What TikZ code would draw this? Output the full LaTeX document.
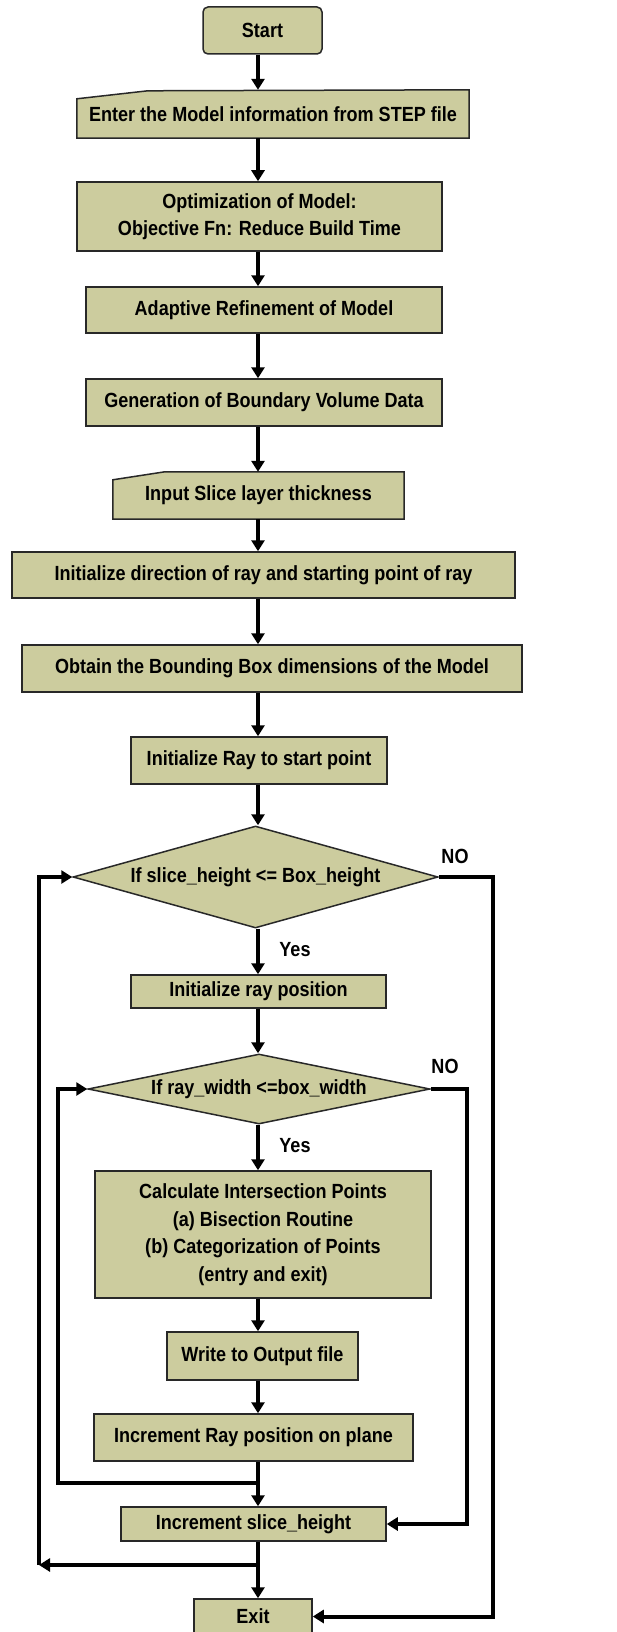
\documentclass[tikz,border=0pt]{standalone}
\usepackage{fontspec}
\setmainfont[FakeStretch=0.88]{Liberation Sans}
\usetikzlibrary{shapes.geometric,arrows.meta,backgrounds,calc}
\definecolor{boxfill}{RGB}{204,204,158}
\definecolor{boxline}{RGB}{40,40,40}
\begin{document}
\begin{tikzpicture}[x=1pt,y=-1pt,
  every node/.style={font=\bfseries\fontsize{20.5}{27.5}\selectfont, text=black},
  proc/.style={rectangle, draw=boxline, fill=boxfill, line width=1.5pt, inner sep=0pt, align=center},
  ghost/.style={rectangle, draw=none, fill=none, inner sep=0pt, align=center},
  dec/.style={diamond, draw=boxline, fill=boxfill, line width=1.5pt, inner sep=0pt},
  manual/.style={draw=boxline, fill=boxfill, line width=1.5pt},
  flow/.style={line width=4pt, -{Triangle[length=11pt,width=13pt]}},
]
\useasboundingbox (0,0) rectangle (617,1632);
\begin{scope}[on background layer]
  \fill[white] (0,0) rectangle (617,1632);
\end{scope}

\coordinate (ax) at (258,0);

% nodes
\node[proc, rounded corners=5pt, minimum width=119pt, minimum height=47pt] (start) at (262.5,30.5) {Start};
\node[ghost, minimum width=392pt, minimum height=48pt] (enter) at (273,114) {Enter the Model information from STEP file};
\node[proc, minimum width=365pt, minimum height=69pt] (opt) at (259.5,216.5) {Optimization of Model:\\Objective Fn: Reduce Build Time};
\node[proc, minimum width=356pt, minimum height=46pt] (adapt) at (264,310) {Adaptive Refinement of Model};
\node[proc, minimum width=356pt, minimum height=47pt] (gen) at (264,402.5) {Generation of Boundary Volume Data};
\node[ghost, minimum width=291pt, minimum height=47pt] (input) at (258.5,495.5) {Input Slice layer thickness};
\node[proc, minimum width=503pt, minimum height=46pt] (initdir) at (263.5,575) {Initialize direction of ray and starting point of ray};
\node[proc, minimum width=500pt, minimum height=47pt] (obtain) at (272,668.5) {Obtain the Bounding Box dimensions of the Model};
\node[proc, minimum width=256pt, minimum height=47pt] (initray) at (259,760.5) {Initialize Ray to start point};
\node[dec, minimum width=365pt, minimum height=102pt] (d1) at (255.5,877) {};
\node (d1t) at (d1) {If slice\_height <= Box\_height};
\node[proc, minimum width=255pt, minimum height=33pt] (initpos) at (258.5,991.5) {Initialize ray position};
\node[dec, minimum width=342pt, minimum height=70pt] (d2) at (259,1089) {};
\node (d2t) at (d2) {If ray\_width <=box\_width};
\node[proc, minimum width=336pt, minimum height=127pt] (calc) at (263,1234.5) {Calculate Intersection Points\\(a) Bisection Routine\\(b) Categorization of Points\\(entry and exit)};
\node[proc, minimum width=191pt, minimum height=48pt] (write) at (262.5,1356) {Write to Output file};
\node[proc, minimum width=319pt, minimum height=47pt] (incray) at (253.5,1437.5) {Increment Ray position on plane};
\node[proc, minimum width=265pt, minimum height=34pt] (incslice) at (253.5,1524) {Increment slice\_height};
\node[proc, minimum width=118pt, minimum height=35pt] (exit) at (253,1616.5) {Exit};

% manual input shapes
\begin{scope}[on background layer]
  \filldraw[manual] (enter.south west) -- (enter.south east) -- (enter.north east)
    -- ($(enter.north west)+(71,1)$) -- ($(enter.north west)+(0,9)$) -- cycle;
  \filldraw[manual] (input.south west) -- (input.south east) -- (input.north east)
    -- ($(input.north west)+(52,0)$) -- ($(input.north west)+(0,8)$) -- cycle;
\end{scope}

% labels
\node (no1) at (455,856) {NO};
\node (yes1) at (295,950) {Yes};
\node (no2) at (445,1066) {NO};
\node (yes2) at (295,1146) {Yes};

% main flow
\draw[flow] (start.south -| ax) -- (enter.north -| ax);
\draw[flow] (enter.south -| ax) -- (opt.north -| ax);
\draw[flow] (opt.south -| ax) -- (adapt.north -| ax);
\draw[flow] (adapt.south -| ax) -- (gen.north -| ax);
\draw[flow] (gen.south -| ax) -- (input.north -| ax);
\draw[flow] (input.south -| ax) -- (initdir.north -| ax);
\draw[flow] (initdir.south -| ax) -- (obtain.north -| ax);
\draw[flow] (obtain.south -| ax) -- (initray.north -| ax);
\draw[flow] (initray.south -| ax) -- (d1.north -| ax);
\draw[flow] (d1.south -| ax) -- (initpos.north -| ax);
\draw[flow] (initpos.south -| ax) -- (d2.north -| ax);
\draw[flow] (d2.south -| ax) -- (calc.north -| ax);
\draw[flow] (calc.south -| ax) -- (write.north -| ax);
\draw[flow] (write.south -| ax) -- (incray.north -| ax);
\draw[flow] (incray.south -| ax) -- (incslice.north -| ax);
\draw[flow] (incslice.south -| ax) -- (exit.north -| ax);

% inner loop
\coordinate (j1) at (258,1483);
\coordinate (il) at (58,1483);
\draw[flow] (j1) -- (il) -- (il |- d2.west) -- (d2.west);

% NO from d2
\coordinate (nr) at (467,0);
\draw[flow] (d2.east) -- (d2.east -| nr) -- (nr |- incslice.east) -- (incslice.east);

% outer loop
\coordinate (j2) at (258,1565);
\coordinate (ol) at (39,1565);
\draw[flow] (j2) -- (ol);
\draw[flow] (ol) -- (ol |- d1.west) -- (d1.west);

% NO from d1
\coordinate (orr) at (493,0);
\draw[flow] (d1.east) -- (d1.east -| orr) -- (orr |- exit.east) -- (exit.east);
\end{tikzpicture}
\end{document}
